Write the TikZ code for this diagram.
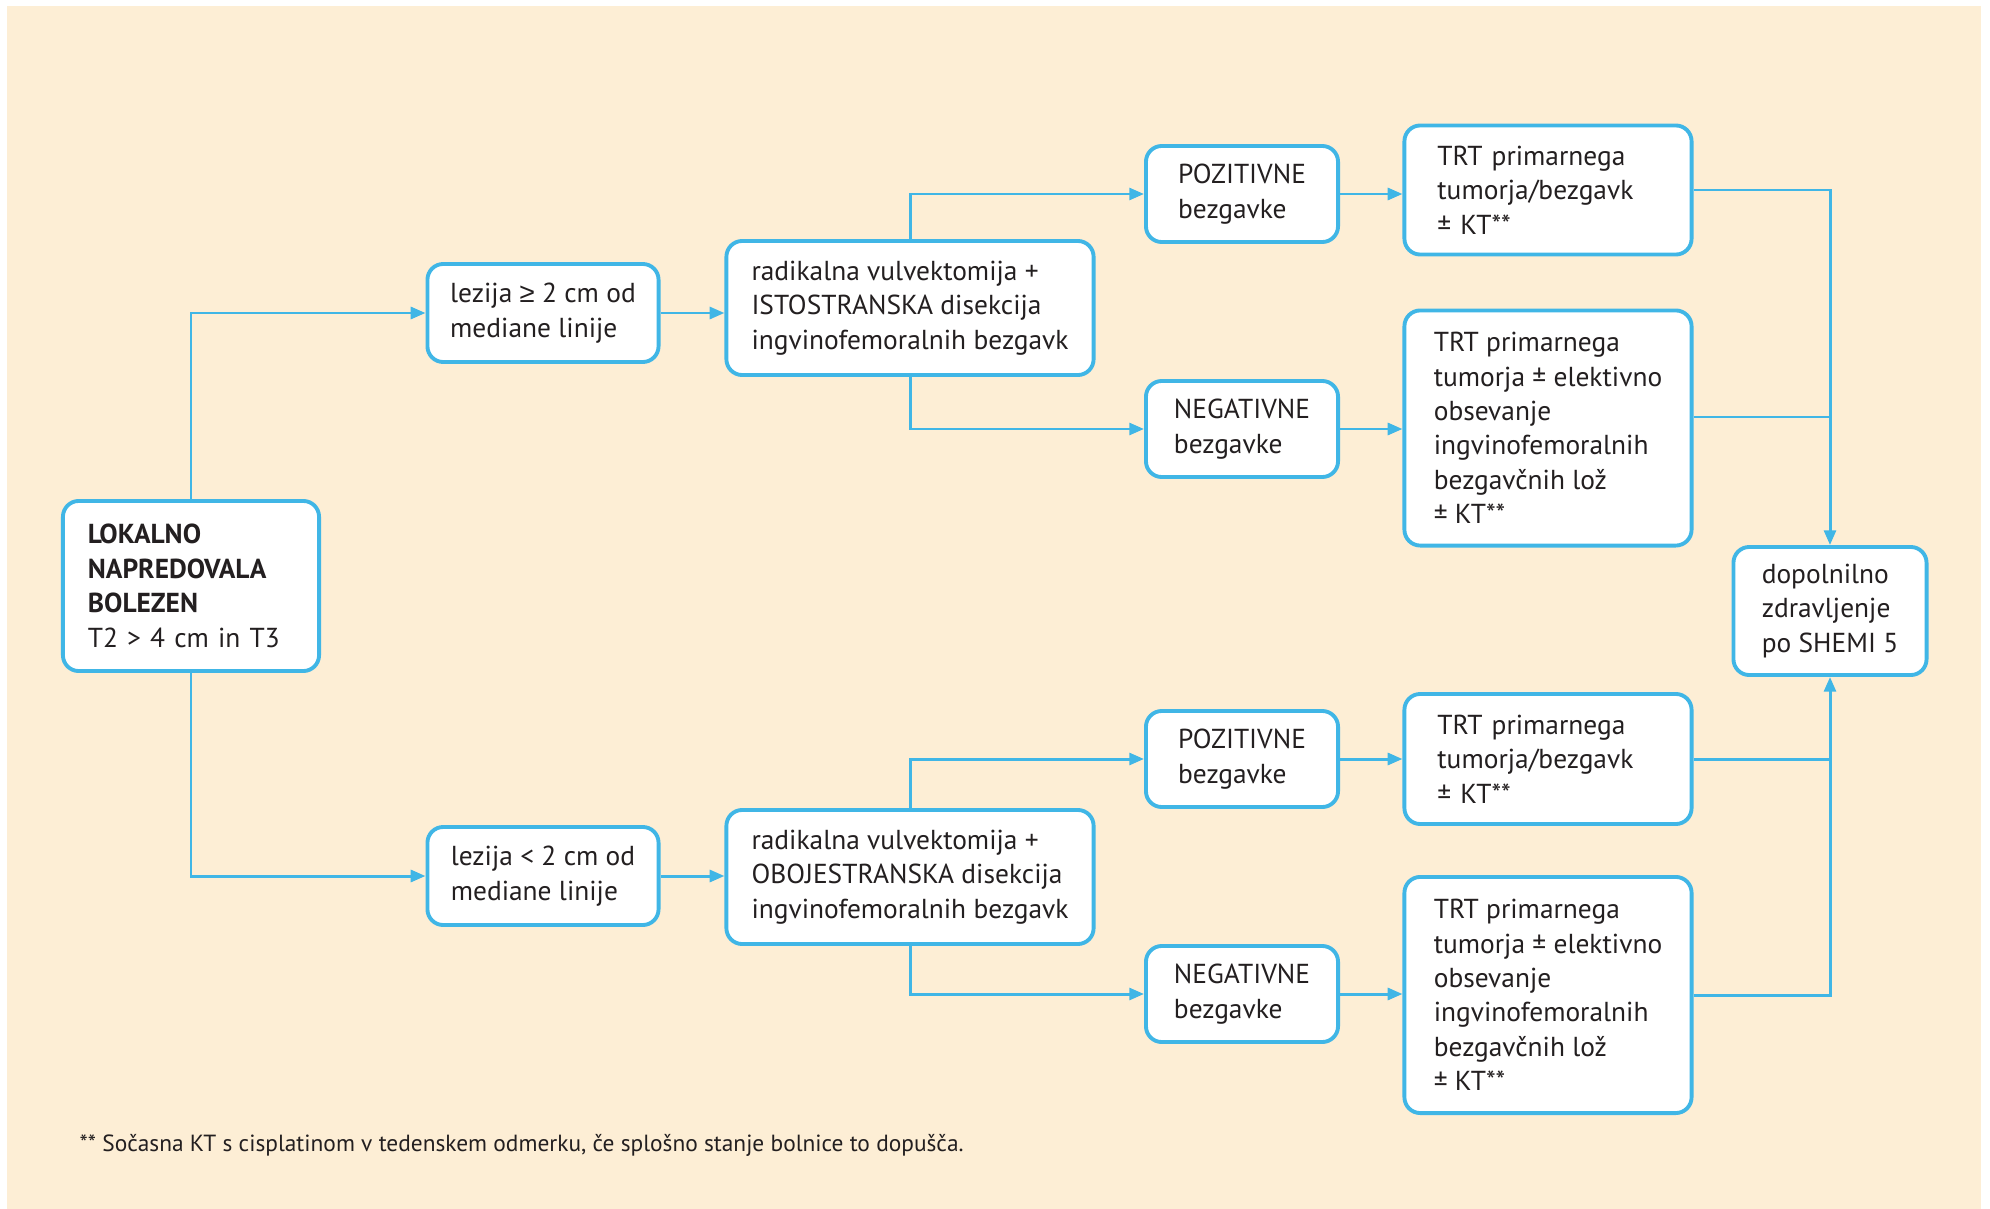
\documentclass[tikz,border=0pt]{standalone}
\usepackage{fontspec}
\setmainfont{PT Sans}
\newfontfamily\symfont{Liberation Sans}
\usepackage{xcolor}
\usepackage{tikz}
\usetikzlibrary{arrows.meta, positioning}

\definecolor{flowblue}{RGB}{64,182,230}
\definecolor{paper}{RGB}{253,238,213}
\definecolor{ink}{RGB}{35,31,32}

\begin{document}
\begin{tikzpicture}[x=0.01cm, y=-0.01cm, >={Triangle[length=4.2pt,width=3.4pt]},
  font=\fontsize{7.8}{9.8}\selectfont, text=ink,
  box/.style={draw=flowblue, line width=1.1pt, fill=white, rounded corners=4.5pt,
    align=left, inner sep=0pt},
  lezbox/.style={box, minimum width=2.31cm, minimum height=0.98cm},
  radbox/.style={box, minimum width=3.67cm, minimum height=1.34cm},
  resbox/.style={box, minimum width=1.92cm, minimum height=0.96cm},
  trtbox/.style={box, minimum width=2.87cm, minimum height=#1},
  link/.style={draw=flowblue, line width=0.85pt}]
  \useasboundingbox (0,0) rectangle (1990,1209);
  \fill[paper] (7,6) rectangle (1981,1209);

  % start
  \node[box, text width=2.06cm, minimum width=2.56cm, minimum height=1.70cm] (main) at (191,586)
    {\textbf{LOKALNO}\\\textbf{NAPREDOVALA}\\\textbf{BOLEZEN}\\T2 > 4 cm in T3};

  % upper branch
  \node[lezbox] (lez1) at (543,313) {lezija {\symfont ≥} 2 cm od\\mediane linije};
  \node[radbox] (rad1) at (910,308) {radikalna vulvektomija +\\ISTOSTRANSKA disekcija\\ingvinofemoralnih bezgavk};
  \node[resbox] (poz1) at (1242,194) {POZITIVNE\\bezgavke};
  \node[resbox] (neg1) at (1242,429) {NEGATIVNE\\bezgavke};
  \node[trtbox=1.29cm, text width=2.21cm] (trt1) at (1548,190) {TRT primarnega\\tumorja/bezgavk\\± KT**};
  \node[trtbox=2.35cm] (trt2) at (1548,428) {TRT primarnega\\tumorja ± elektivno\\obsevanje\\ingvinofemoralnih\\bezgavčnih lož\\± KT**};

  % lower branch
  \node[lezbox] (lez2) at (543,876) {lezija < 2 cm od\\mediane linije};
  \node[radbox] (rad2) at (910,877) {radikalna vulvektomija +\\OBOJESTRANSKA disekcija\\ingvinofemoralnih bezgavk};
  \node[resbox] (poz2) at (1242,759) {POZITIVNE\\bezgavke};
  \node[resbox] (neg2) at (1242,994) {NEGATIVNE\\bezgavke};
  \node[trtbox=1.30cm, text width=2.21cm] (trt3) at (1548,759) {TRT primarnega\\tumorja/bezgavk\\± KT**};
  \node[trtbox=2.36cm] (trt4) at (1548,995) {TRT primarnega\\tumorja ± elektivno\\obsevanje\\ingvinofemoralnih\\bezgavčnih lož\\± KT**};

  \node[box, minimum width=1.93cm, minimum height=1.28cm] (dop) at (1830,611)
    {dopolnilno\\zdravljenje\\po SHEMI 5};

  \node[anchor=west, inner sep=0pt, font=\fontsize{6.65}{8}\selectfont] (note) at (79,1145)
    {** Sočasna KT s cisplatinom v tedenskem odmerku, če splošno stanje bolnice to dopušča.};

  % connectors
  \draw[link,->] (main.north) |- (lez1.west);
  \draw[link,->] (main.south) |- (lez2.west);
  \draw[link,->] (lez1.east) -- (lez1.east -| rad1.west);
  \draw[link,->] (lez2.east) -- (lez2.east -| rad2.west);
  \draw[link,->] (rad1.north) |- (poz1.west);
  \draw[link,->] (rad1.south) |- (neg1.west);
  \draw[link,->] (rad2.north) |- (poz2.west);
  \draw[link,->] (rad2.south) |- (neg2.west);
  \draw[link,->] (poz1.east) -- (poz1.east -| trt1.west);
  \draw[link,->] (neg1.east) -- (neg1.east -| trt2.west);
  \draw[link,->] (poz2.east) -- (poz2.east -| trt3.west);
  \draw[link,->] (neg2.east) -- (neg2.east -| trt4.west);
  \draw[link,->] (trt1.east) -| (dop.north);
  \draw[link] ([yshift=0.11cm]trt2.east) -- ([yshift=0.11cm]trt2.east -| dop.north);
  \draw[link,->] (trt4.east) -| (dop.south);
  \draw[link] (trt3.east) -- (trt3.east -| dop.south);
\end{tikzpicture}
\end{document}
